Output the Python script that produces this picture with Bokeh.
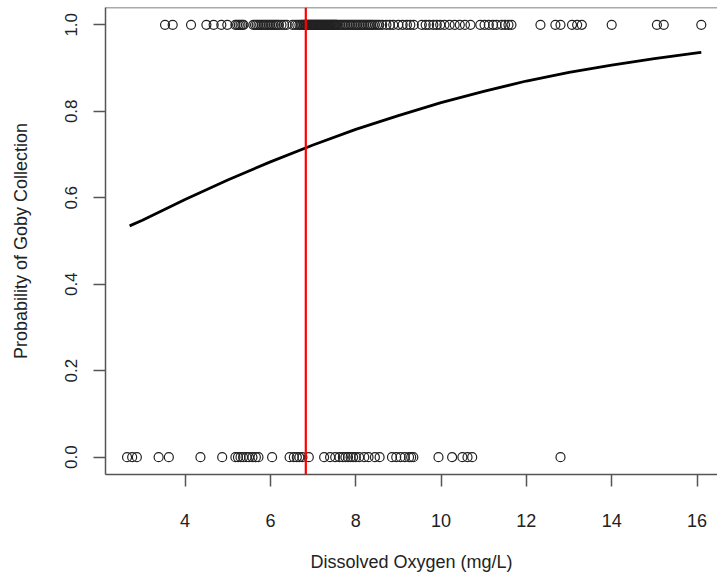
from bokeh.plotting import figure
from bokeh.models import Range1d, Span, FixedTicker, PrintfTickFormatter
from bokeh.embed import file_html
from bokeh.resources import INLINE

# Observations collected (goby present = 1)
do_present = [3.53, 3.71, 4.14, 4.50, 4.67, 4.85, 4.99, 5.18, 5.22, 5.26, 5.30, 5.34, 5.37,
              5.60, 5.64, 5.68, 5.72, 5.76, 5.80, 5.84, 5.88, 5.92, 5.96, 6.00, 6.04, 6.08,
              6.12, 6.16, 6.20, 6.26, 6.32, 6.38, 6.52, 6.58, 6.63, 6.68, 6.72, 6.75, 6.78,
              6.80, 6.82, 6.84, 6.86, 6.88, 6.90, 6.92, 6.94, 6.96, 6.98, 7.00, 7.02, 7.04,
              7.06, 7.08, 7.10, 7.12, 7.14, 7.16, 7.18, 7.20, 7.22, 7.24, 7.26, 7.28, 7.30,
              7.32, 7.34, 7.36, 7.38, 7.40, 7.42, 7.44, 7.46, 7.48, 7.50, 7.52, 7.54, 7.56,
              7.60, 7.64, 7.68, 7.72, 7.76, 7.80, 7.84, 7.88, 7.92, 7.96, 8.00, 8.04, 8.08,
              8.12, 8.16, 8.20, 8.24, 8.28, 8.32, 8.36, 8.40, 8.45, 8.50, 8.55, 8.62, 8.72,
              8.80, 8.88, 9.00, 9.10, 9.20, 9.28, 9.36, 9.55, 9.64, 9.72, 9.82, 9.90, 9.98,
              10.08, 10.20, 10.32, 10.44, 10.56, 10.69, 10.92, 11.02, 11.12, 11.22, 11.30,
              11.42, 11.50, 11.58, 11.65, 12.33, 12.68, 12.80, 13.07, 13.19, 13.30, 14.00,
              15.06, 15.22, 16.10]
# Observations with no goby (= 0)
do_absent = [2.64, 2.76, 2.87, 3.38, 3.62, 4.36, 4.87, 5.18, 5.24, 5.30, 5.36, 5.44, 5.50,
             5.58, 5.66, 5.72, 6.04, 6.45, 6.55, 6.62, 6.68, 6.75, 6.90, 7.26, 7.40, 7.52,
             7.62, 7.70, 7.76, 7.82, 7.88, 7.94, 8.00, 8.08, 8.20, 8.30, 8.45, 8.56, 8.85,
             8.95, 9.05, 9.15, 9.25, 9.30, 9.35, 9.94, 10.26, 10.50, 10.62, 10.73, 12.80]

# Fitted probability curve
curve_x = [2.7, 3, 4, 5, 6, 7, 8, 9, 10, 11, 12, 13, 14, 15, 16, 16.1]
curve_y = [0.535, 0.548, 0.596, 0.641, 0.683, 0.722, 0.758, 0.790, 0.820, 0.846,
           0.870, 0.890, 0.907, 0.922, 0.935, 0.936]

threshold_do = 6.83
x_ticks = [4, 6, 8, 10, 12, 14, 16]
y_ticks = [0.0, 0.2, 0.4, 0.6, 0.8, 1.0]

FONT = "Liberation Sans"

p = figure(width=717, height=582, output_backend="svg", toolbar_location=None,
           x_range=Range1d(2.135, 16.48), y_range=Range1d(-0.04, 1.04),
           min_border_left=105, min_border_top=7, min_border_bottom=108, min_border_right=0,
           background_fill_color="white", border_fill_color="white")
p.grid.visible = False
p.outline_line_color = None

p.scatter(do_present, [1] * len(do_present), marker="circle", size=9,
          fill_color=None, line_color="#222222", line_width=1.2)
p.scatter(do_absent, [0] * len(do_absent), marker="circle", size=9,
          fill_color=None, line_color="#222222", line_width=1.2)

p.line(curve_x, curve_y, line_color="black", line_width=2.8)

p.add_layout(Span(location=threshold_do, dimension="height", line_color="#ff0000", line_width=2.2))
p.add_layout(Span(location=1.04, dimension="width", line_color="#555555", line_width=1.5))

for ax in (p.xaxis[0], p.yaxis[0]):
    ax.axis_line_color = "#555555"
    ax.axis_line_width = 1.5
    ax.major_tick_line_color = "#555555"
    ax.major_tick_line_width = 1.5
    ax.major_tick_out = 12
    ax.major_tick_in = 0
    ax.minor_tick_line_color = None
    ax.major_label_text_font = FONT
    ax.major_label_text_color = "#222222"
    ax.axis_label_text_font = FONT
    ax.axis_label_text_font_style = "normal"
    ax.axis_label_text_color = "#222222"

p.xaxis.ticker = FixedTicker(ticks=x_ticks)
p.xaxis.major_label_text_font_size = "18px"
p.xaxis.major_label_standoff = 27
p.xaxis.axis_label = "Dissolved Oxygen (mg/L)"
p.xaxis.axis_label_text_font_size = "18px"
p.xaxis.axis_label_standoff = 22

p.yaxis.ticker = FixedTicker(ticks=y_ticks)
p.yaxis.formatter = PrintfTickFormatter(format="%.1f")
p.yaxis.major_label_orientation = "vertical"
p.yaxis.major_label_text_font_size = "17px"
p.yaxis.major_label_standoff = 16
p.yaxis.axis_label = "Probability of Goby Collection"
p.yaxis.axis_label_text_font_size = "18px"
p.yaxis.axis_label_standoff = 32

open("out.html", "w").write(file_html(p, INLINE))
